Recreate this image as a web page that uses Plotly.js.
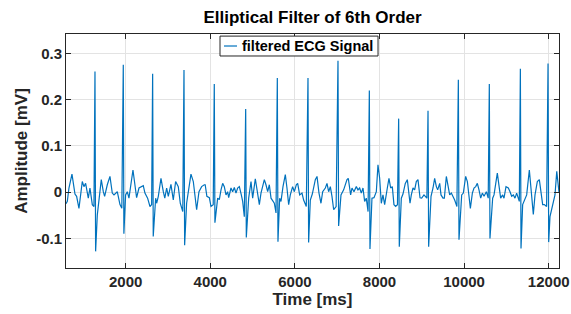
<!DOCTYPE html>
<html>
<head>
<meta charset="utf-8">
<script src="https://cdn.plot.ly/plotly-3.0.1.min.js"></script>
<style>html,body{margin:0;padding:0;background:#fff;}#chart{width:571px;height:314px;}</style>
</head>
<body>
<div id="chart"></div>
<script>
// Time samples (ms)
var timeMs = [
590,621,660,731,802,841,896,975,1014,1054,1117,1156,1212,1251,1275,1290,1330,1361,1424,1472,
1503,1566,1629,1684,1724,1802,1866,1910,1944,1958,1999,2039,2078,2173,2236,2259,2315,2360,2417,2456,
2519,2575,2614,2638,2652,2709,2732,2772,2835,2890,2925,2969,3008,3071,3126,3181,3244,3292,3350,3379,
3394,3441,3481,3544,3599,3638,3678,3733,3796,3859,3880,3920,3978,4017,4070,4095,4110,4175,4214,4254,
4293,4332,4372,4411,4435,4490,4529,4569,4608,4647,4687,4734,4766,4805,4837,4852,4908,4963,5002,5065,
5120,5160,5199,5278,5317,5357,5396,5436,5514,5554,5585,5600,5640,5672,5719,5774,5813,5853,5892,5947,
5987,6034,6066,6113,6168,6207,6270,6310,6325,6365,6412,6483,6523,6570,6617,6657,6720,6759,6798,6838,
6877,6917,6975,7019,7034,7090,7153,7232,7262,7318,7350,7397,7452,7491,7531,7570,7610,7649,7688,7730,
7760,7775,7822,7870,7925,7964,8004,8043,8082,8122,8185,8224,8264,8303,8342,8382,8425,8453,8468,8516,
8555,8610,8658,8689,8721,8752,8792,8831,8870,8910,8958,8997,9052,9120,9147,9162,9218,9265,9304,9344,
9375,9423,9454,9501,9533,9580,9627,9659,9698,9738,9777,9830,9864,9879,9943,9982,10037,10077,10116,10148,
10195,10234,10274,10313,10352,10392,10431,10471,10526,10570,10596,10611,10675,10707,10785,10833,10864,10911,10943,10990,
11045,11085,11124,11164,11203,11242,11305,11330,11345,11384,11439,11479,11542,11597,11636,11676,11731,11778,11810,11857,
11896,11950,11984,11999,12030,12085,12148,12190,12243
];
// Filtered ECG amplitude (mV)
var amplitudeMv = [
-0.025,-0.020,0.009,0.039,-0.004,-0.009,-0.035,0.023,0.012,0.019,-0.013,0.009,-0.027,-0.031,0.261,-0.128,-0.049,-0.024,0.027,0.001,
-0.009,0.016,0.034,-0.002,-0.006,0.001,-0.027,-0.035,0.2755,-0.090,-0.006,0.001,-0.013,0.048,-0.006,-0.012,0.009,0.012,0.014,-0.002,
-0.013,-0.031,-0.027,0.256,-0.096,-0.013,-0.024,-0.009,0.030,0.001,-0.013,0.009,-0.009,0.017,-0.017,0.023,0.012,-0.024,-0.042,0.264,
-0.115,-0.024,0.001,0.039,0.023,-0.009,-0.038,0.001,0.012,0.016,0.016,-0.009,-0.012,-0.031,-0.027,0.234,-0.066,-0.013,-0.016,0.005,
0.019,0.012,-0.006,0.001,-0.012,0.009,0.001,0.010,-0.002,0.009,0.012,-0.006,-0.020,-0.053,0.180,-0.098,-0.013,0.023,-0.013,0.029,
-0.006,-0.027,-0.002,0.027,0.016,0.001,0.016,-0.013,-0.024,-0.045,0.247,-0.107,-0.013,-0.020,0.012,0.038,0.009,-0.027,-0.006,0.012,
0.001,0.016,0.019,-0.006,-0.002,-0.017,-0.031,0.247,-0.109,-0.017,-0.004,0.027,0.034,-0.002,-0.024,0.001,0.009,0.019,0.001,0.012,
-0.009,-0.038,-0.031,0.284,-0.073,-0.006,0.005,0.027,0.030,-0.006,0.009,0.001,0.012,0.005,0.009,-0.002,0.009,-0.020,-0.013,-0.042,
0.220,-0.123,-0.013,-0.012,0.001,0.059,0.030,-0.024,-0.006,-0.027,0.009,0.030,0.009,0.012,-0.027,-0.031,-0.027,0.159,-0.118,-0.013,
-0.004,0.019,0.027,-0.002,-0.024,-0.006,0.009,0.005,0.023,0.027,-0.012,-0.013,-0.006,-0.013,0.176,-0.118,-0.009,0.009,0.030,0.012,
0.005,0.019,-0.006,-0.013,-0.013,0.034,0.005,-0.006,-0.002,-0.009,-0.017,-0.031,0.243,-0.103,-0.006,-0.002,0.034,0.023,-0.013,-0.035,
-0.002,0.009,0.012,0.019,0.005,-0.013,-0.002,-0.009,0.001,-0.013,0.234,-0.100,-0.013,-0.006,0.041,0.009,-0.013,-0.006,-0.013,0.012,
0.009,0.001,-0.009,-0.006,-0.013,-0.002,-0.020,0.267,-0.122,-0.027,-0.013,-0.006,0.048,-0.013,-0.048,-0.006,0.023,0.027,0.009,-0.027,
-0.027,-0.031,0.278,-0.108,-0.053,-0.031,-0.006,0.045,0.000
];
var xTickVals = [2000,4000,6000,8000,10000,12000];
var xTickText = ['2000','4000','6000','8000','10000','12000'];
var yTickVals = [-0.1,0,0.1,0.2,0.3];
var yTickText = ['-0.1','0','0.1','0.2','0.3'];
var seriesName = 'filtered ECG Signal';
var lineColor = '#0072BD';

var fam = '"Liberation Sans", Arial, Helvetica, sans-serif';
var ink = '#262626';

var trace = {
  x: timeMs, y: amplitudeMv, type: 'scatter', mode: 'lines',
  name: seriesName, showlegend: false,
  line: {color: lineColor, width: 1.2}
};

var axisCommon = {
  showline: true, mirror: 'ticks', linecolor: ink, linewidth: 1,
  ticks: 'inside', ticklen: 5, tickcolor: ink, tickwidth: 1,
  showgrid: true, gridcolor: '#e3e3e3', gridwidth: 1, zeroline: false,
  tickfont: {family: fam, size: 15, color: ink, weight: 'bold'},
  tickmode: 'array'
};

// MATLAB-style compact legend box (paper coordinates)
var lg = {x0: 0.3124, x1: 0.6329, y0: 0.906, y1: 0.991, ym: 0.9487, lx0: 0.3205, lx1: 0.3469, tx: 0.3529};

var layout = {
  width: 571, height: 314,
  margin: {l: 66, r: 12, t: 34, b: 46, pad: 0},
  paper_bgcolor: '#fff', plot_bgcolor: '#fff',
  showlegend: false,
  title: {text: 'Elliptical Filter of 6th Order', font: {family: fam, size: 17, color: '#000', weight: 'bold'},
          x: 0.5, xref: 'paper', y: 1 - 17/314, yref: 'container', yanchor: 'middle'},
  xaxis: Object.assign({}, axisCommon, {
    range: [590, 12243], tickvals: xTickVals, ticktext: xTickText,
    title: {text: 'Time [ms]', font: {family: fam, size: 17, color: ink, weight: 'bold'}, standoff: 2}
  }),
  yaxis: Object.assign({}, axisCommon, {
    range: [-0.164, 0.342], tickvals: yTickVals, ticktext: yTickText,
    title: {text: 'Amplitude [mV]', font: {family: fam, size: 17, color: ink, weight: 'bold'}, standoff: 4}
  }),
  shapes: [
    {type: 'rect', xref: 'paper', yref: 'paper', x0: lg.x0, x1: lg.x1, y0: lg.y0, y1: lg.y1,
     fillcolor: '#fff', line: {color: ink, width: 1}, layer: 'above'},
    {type: 'line', xref: 'paper', yref: 'paper', x0: lg.lx0, x1: lg.lx1, y0: lg.ym, y1: lg.ym,
     line: {color: lineColor, width: 1.2}, layer: 'above'}
  ],
  annotations: [
    {text: seriesName, xref: 'paper', yref: 'paper', x: lg.tx, y: lg.ym, xanchor: 'left', yanchor: 'middle',
     showarrow: false, font: {family: fam, size: 14.5, color: '#000', weight: 'bold'}}
  ]
};

Plotly.newPlot('chart', [trace], layout, {staticPlot: true, displayModeBar: false});
</script>
</body>
</html>
